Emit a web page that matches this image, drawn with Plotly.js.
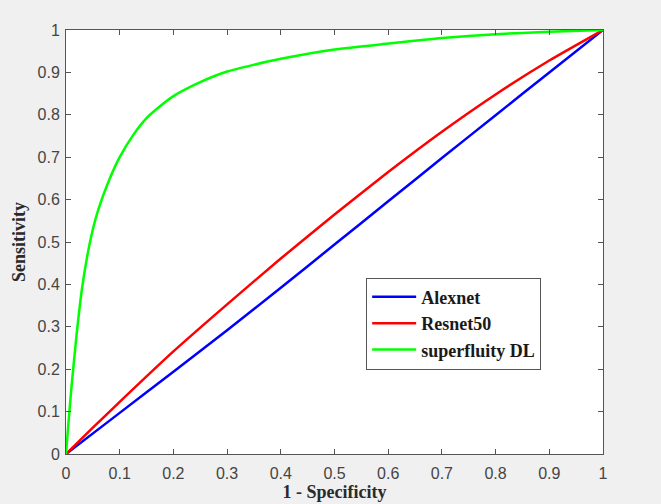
<!DOCTYPE html>
<html>
<head>
<meta charset="utf-8">
<script src="https://cdn.plot.ly/plotly-3.0.1.min.js"></script>
<style>
html,body{margin:0;padding:0;background:#f0f0f0;}
#chart{width:661px;height:504px;}
</style>
</head>
<body>
<div id="chart"></div>
<script>
// Alexnet ROC
const alexFpr  = [0, 0.1, 0.2, 0.3, 0.4, 0.5, 0.6, 0.7, 0.8, 0.9, 1];
const alexTpr  = [0, 0.097, 0.194, 0.292, 0.392, 0.494, 0.596, 0.698, 0.799, 0.9, 1];
// Resnet50 ROC
const resFpr   = [0, 0.05, 0.1, 0.2, 0.3, 0.4, 0.5, 0.6, 0.7, 0.8, 0.9, 1];
const resTpr   = [0, 0.062, 0.123, 0.242, 0.353, 0.461, 0.565, 0.665, 0.760, 0.848, 0.928, 1];
// superfluity DL ROC
const supFpr   = [0, 0.005, 0.01, 0.02, 0.03, 0.04, 0.05, 0.06, 0.08, 0.1, 0.125, 0.15, 0.175, 0.2, 0.25, 0.3, 0.35, 0.4, 0.5, 0.6, 0.7, 0.8, 0.9, 1];
const supTpr   = [0, 0.08, 0.155, 0.285, 0.392, 0.47, 0.53, 0.576, 0.645, 0.70, 0.752, 0.792, 0.820, 0.844, 0.877, 0.902, 0.918, 0.932, 0.954, 0.968, 0.981, 0.990, 0.996, 1];

const names  = ['Alexnet', 'Resnet50', 'superfluity DL'];
const ticks  = [0, 0.1, 0.2, 0.3, 0.4, 0.5, 0.6, 0.7, 0.8, 0.9, 1];
const tickText = ['0', '0.1', '0.2', '0.3', '0.4', '0.5', '0.6', '0.7', '0.8', '0.9', '1'];

const data = [
  {x: alexFpr, y: alexTpr, name: names[0], mode: 'lines', line: {color: '#0000ff', width: 2.5, shape: 'spline', smoothing: 0.5}},
  {x: resFpr, y: resTpr, name: names[1], mode: 'lines', line: {color: '#ff0000', width: 2.5, shape: 'spline', smoothing: 0.5}},
  {x: supFpr, y: supTpr, name: names[2], mode: 'lines', line: {color: '#00ff00', width: 2.5, shape: 'spline', smoothing: 0.6}}
];

const axisCommon = {
  range: [0, 1],
  tickvals: ticks,
  ticktext: tickText,
  ticks: 'inside',
  ticklen: 5,
  tickcolor: '#555555',
  tickwidth: 1,
  showline: true,
  linecolor: '#555555',
  linewidth: 1,
  mirror: 'allticks',
  showgrid: false,
  zeroline: false,
  tickfont: {family: 'Liberation Sans, Arial, sans-serif', size: 16, color: '#454545'},
  fixedrange: true
};

const titleFont = {family: 'Liberation Serif, Times New Roman, serif', size: 18, color: '#2a2a2a', weight: 'bold'};

const layout = {
  width: 661,
  height: 504,
  paper_bgcolor: '#f0f0f0',
  plot_bgcolor: '#ffffff',
  margin: {l: 66, r: 58, t: 30, b: 50},
  showlegend: true,
  xaxis: Object.assign({}, axisCommon, {
    ticklabelstandoff: 5,
    title: {text: '1 - Specificity', standoff: 4, font: titleFont}
  }),
  yaxis: Object.assign({}, axisCommon, {
    ticklabelstandoff: 2,
    title: {text: 'Sensitivity', standoff: 7, font: titleFont}
  }),
  legend: {
    x: 0.559, y: 0.416, xanchor: 'left', yanchor: 'top',
    bgcolor: '#ffffff', bordercolor: '#555555', borderwidth: 1,
    itemwidth: 44,
    font: {family: 'Liberation Serif, Times New Roman, serif', size: 18, color: '#1a1a1a', weight: 'bold'},
    tracegroupgap: 0
  }
};

Plotly.newPlot('chart', data, layout, {displayModeBar: false, staticPlot: true});
</script>
</body>
</html>
